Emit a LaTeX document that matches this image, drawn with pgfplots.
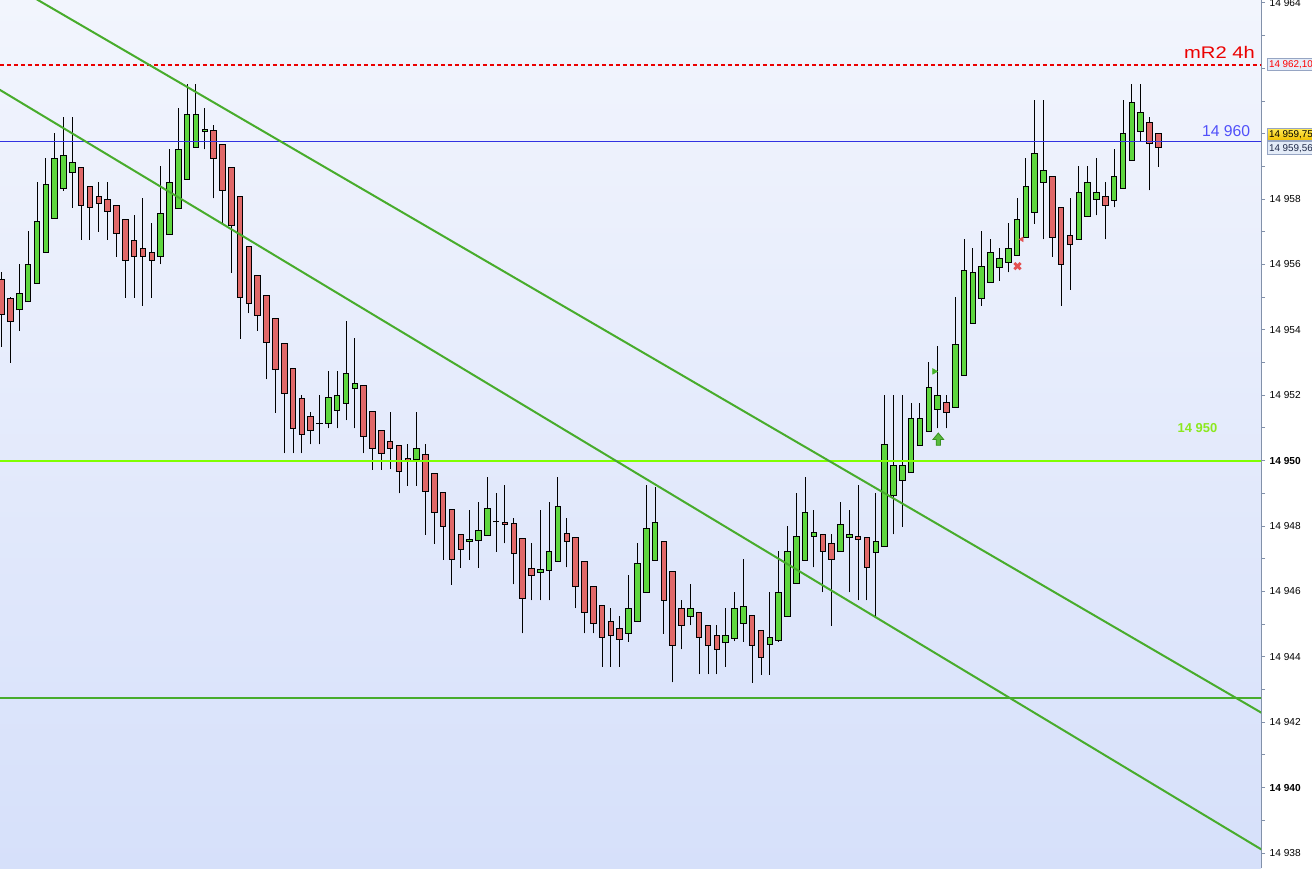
\documentclass[border=0pt]{standalone}
\usepackage{fontspec}
\setmainfont{Liberation Sans}
\usepackage{pgfplots}
\usepackage{pgfplotstable}
\pgfplotsset{compat=1.18}

\definecolor{cgreen}{RGB}{94,214,62}
\definecolor{cred}{RGB}{224,104,104}
\definecolor{tgreen}{RGB}{72,172,44}
\definecolor{lgreen}{RGB}{128,255,0}
\definecolor{llab}{RGB}{140,232,30}
\definecolor{bline}{RGB}{50,50,225}
\definecolor{btext}{RGB}{80,80,250}
\definecolor{axisgray}{RGB}{130,145,170}
\definecolor{bgtop}{RGB}{242,245,253}
\definecolor{bgbot}{RGB}{214,224,250}
\definecolor{boxfill}{RGB}{228,236,248}
\definecolor{boxdraw}{RGB}{150,165,195}
\definecolor{mgreen}{RGB}{70,180,40}
\definecolor{mred}{RGB}{228,80,80}
\definecolor{lred}{RGB}{235,0,0}

% prices are shifted in fixed point (TeX dimens) so that the fpu does not round them
\makeatletter
\newdimen\pdim
\def\pset{\edef\pval{\strip@pt\pdim}\pgfkeyslet{/pgfplots/table/create col/next content}\pval}
\def\ptrafo#1{%
  \pgfutil@in@{Y}{#1}%
  \ifpgfutil@in@\pgfmathfloattofixed{#1}\let\ptmp\pgfmathresult\else\def\ptmp{#1}\fi
  \pdim=\ptmp pt\relax\advance\pdim by -14950pt\relax\edef\pgfmathresult{\strip@pt\pdim}}
\makeatother

\pgfdeclareplotmark{uparrow}{%
  \pgfpathmoveto{\pgfqpoint{0pt}{1.2\pgfplotmarksize}}%
  \pgfpathlineto{\pgfqpoint{\pgfplotmarksize}{0pt}}%
  \pgfpathlineto{\pgfqpoint{0.4\pgfplotmarksize}{0pt}}%
  \pgfpathlineto{\pgfqpoint{0.4\pgfplotmarksize}{-1.1\pgfplotmarksize}}%
  \pgfpathlineto{\pgfqpoint{-0.4\pgfplotmarksize}{-1.1\pgfplotmarksize}}%
  \pgfpathlineto{\pgfqpoint{-0.4\pgfplotmarksize}{0pt}}%
  \pgfpathlineto{\pgfqpoint{-\pgfplotmarksize}{0pt}}%
  \pgfpathclose
  \pgfusepathqfillstroke}

% candle: index, open, high, low, close
\pgfplotstableread{
i o h l c
0 14955.53 14955.78 14953.49 14954.46
1 14954.97 14955.02 14953.00 14954.25
2 14954.61 14956.01 14953.98 14955.12
3 14954.86 14957.02 14954.86 14956.01
4 14955.43 14958.51 14955.43 14957.31
5 14956.37 14959.25 14956.37 14958.45
6 14957.41 14960.01 14957.41 14959.25
7 14958.33 14960.50 14958.26 14959.34
8 14958.82 14960.50 14957.74 14959.13
9 14958.97 14958.97 14956.76 14957.81
10 14958.38 14958.38 14956.76 14957.75
11 14958.09 14958.51 14957.00 14957.87
12 14957.99 14958.51 14956.76 14957.63
13 14957.81 14957.81 14956.24 14956.95
14 14957.38 14957.38 14954.98 14956.13
15 14956.74 14957.51 14954.98 14956.25
16 14956.50 14958.03 14954.74 14956.25
17 14956.37 14957.26 14954.98 14956.13
18 14956.25 14959.00 14956.01 14957.57
19 14956.92 14959.52 14956.92 14958.51
20 14957.72 14960.78 14957.72 14959.52
21 14958.61 14961.52 14958.61 14960.59
22 14959.58 14961.52 14959.58 14960.59
23 14960.07 14960.78 14959.52 14960.13
24 14960.10 14960.26 14958.02 14959.25
25 14959.68 14959.68 14957.26 14958.27
26 14958.97 14958.97 14955.75 14957.20
27 14958.09 14958.09 14953.73 14955.00
28 14956.56 14956.56 14954.51 14954.81
29 14955.67 14955.67 14953.98 14954.45
30 14955.06 14955.06 14952.49 14953.62
31 14954.35 14954.35 14951.47 14952.80
32 14953.59 14953.59 14950.23 14952.06
33 14952.83 14952.83 14950.23 14950.99
34 14951.91 14952.01 14950.23 14950.81
35 14951.36 14951.48 14950.50 14950.93
36 14951.14 14952.01 14950.50 14951.14
37 14951.14 14952.74 14950.99 14951.94
38 14951.54 14952.74 14950.99 14952.00
39 14951.76 14954.27 14951.24 14952.67
40 14952.21 14953.76 14950.99 14952.37
41 14952.31 14952.31 14950.23 14950.75
42 14951.51 14951.51 14949.72 14950.38
43 14950.93 14950.93 14949.72 14950.23
44 14950.59 14951.48 14949.74 14950.38
45 14950.47 14950.47 14949.00 14949.68
46 14950.07 14950.51 14949.24 14950.01
47 14950.04 14951.48 14949.24 14950.38
48 14950.20 14950.51 14947.74 14949.06
49 14949.61 14949.61 14947.46 14948.42
50 14949.03 14949.03 14946.97 14947.99
51 14948.51 14948.51 14946.21 14946.98
52 14947.75 14947.75 14946.73 14947.29
53 14947.54 14948.49 14946.97 14947.60
54 14947.57 14948.73 14946.73 14947.87
55 14947.72 14949.49 14947.72 14948.54
56 14948.13 14949.00 14947.22 14948.13
57 14948.12 14949.25 14947.47 14948.06
58 14948.09 14948.24 14946.22 14947.17
59 14947.63 14947.63 14944.72 14945.79
60 14946.71 14947.47 14945.73 14946.50
61 14946.59 14948.49 14945.73 14946.68
62 14946.65 14948.73 14945.73 14947.23
63 14946.92 14949.49 14946.92 14948.61
64 14947.78 14948.24 14946.74 14947.54
65 14947.66 14947.66 14945.49 14946.16
66 14946.92 14946.92 14944.72 14945.36
67 14946.14 14946.14 14944.72 14945.03
68 14945.58 14945.58 14943.70 14944.60
69 14945.09 14945.49 14943.70 14944.66
70 14944.87 14945.24 14943.70 14944.54
71 14944.72 14946.50 14944.46 14945.49
72 14945.09 14947.47 14945.09 14946.86
73 14945.98 14949.25 14945.98 14947.93
74 14946.95 14949.19 14946.95 14948.12
75 14947.54 14947.54 14944.71 14945.73
76 14946.62 14946.62 14943.22 14944.35
77 14945.49 14945.73 14944.23 14944.97
78 14945.24 14946.22 14944.97 14945.49
79 14945.36 14945.36 14943.47 14944.60
80 14944.97 14944.97 14943.47 14944.35
81 14944.66 14944.97 14943.47 14944.23
82 14944.45 14945.49 14943.70 14944.66
83 14944.57 14945.98 14944.48 14945.49
84 14945.03 14946.99 14944.46 14945.55
85 14945.27 14945.27 14943.21 14944.35
86 14944.81 14944.81 14943.46 14943.99
87 14944.39 14945.99 14943.46 14944.60
88 14944.51 14947.24 14944.46 14945.98
89 14945.24 14948.00 14945.24 14947.23
90 14946.25 14949.00 14946.25 14947.69
91 14946.95 14949.49 14946.95 14948.42
92 14947.69 14948.49 14946.74 14947.80
93 14947.75 14947.75 14945.98 14947.23
94 14947.47 14947.75 14944.95 14946.98
95 14947.23 14948.73 14947.23 14948.06
96 14947.66 14948.49 14945.98 14947.75
97 14947.69 14949.25 14945.73 14947.60
98 14947.66 14947.66 14945.73 14946.74
99 14947.20 14949.00 14945.23 14947.54
100 14947.38 14952.00 14947.38 14950.50
101 14948.94 14952.00 14947.75 14949.86
102 14949.40 14952.00 14947.98 14949.86
103 14949.65 14951.76 14949.65 14951.30
104 14950.47 14951.76 14950.47 14951.30
105 14950.90 14953.01 14950.90 14952.24
106 14951.57 14953.50 14950.99 14952.00
107 14951.79 14952.00 14950.99 14951.48
108 14951.63 14955.00 14951.63 14953.56
109 14952.61 14956.77 14952.61 14955.82
110 14954.20 14956.50 14954.20 14955.76
111 14954.97 14957.02 14954.74 14955.94
112 14955.46 14956.78 14955.46 14956.37
113 14955.91 14956.50 14955.50 14956.19
114 14956.07 14957.26 14955.76 14956.50
115 14956.28 14958.02 14956.28 14957.38
116 14956.83 14959.25 14956.83 14958.39
117 14957.60 14961.02 14957.25 14959.40
118 14958.51 14961.02 14956.77 14958.88
119 14958.70 14958.70 14956.24 14956.83
120 14957.75 14957.75 14954.74 14956.01
121 14956.89 14958.02 14955.23 14956.62
122 14956.77 14959.00 14956.77 14958.21
123 14957.47 14959.00 14957.47 14958.51
124 14957.99 14959.25 14957.50 14958.21
125 14958.09 14958.51 14956.77 14957.81
126 14957.96 14959.52 14957.75 14958.70
127 14958.33 14961.02 14958.33 14960.01
128 14959.19 14961.51 14959.19 14960.96
129 14960.07 14961.51 14959.77 14960.65
130 14960.35 14960.50 14958.27 14959.71
131 14960.01 14960.01 14958.99 14959.58
}\candles

\newcommand\mkcol[2]{\pgfplotstablecreatecol[create col/assign/.code={%
  \getthisrow{o}\vo\getthisrow{h}\vh\getthisrow{l}\vl\getthisrow{c}\vc
  #2\pset}]{#1}\candles}
% wick length
\mkcol{hl}{\pdim=\vh pt\relax\advance\pdim by -\vl pt\relax}
% body outline: bottom and height
\mkcol{lo0}{\pdim=\vo pt\relax\ifdim\vc pt<\pdim\relax\pdim=\vc pt\relax\fi\advance\pdim by -0.015pt\relax}
\mkcol{hg0}{\pdim=\vc pt\relax\advance\pdim by -\vo pt\relax\ifdim\pdim<0pt\relax\pdim=-\pdim\fi\advance\pdim by 0.03pt\relax}
% body fill: bottom and height
\mkcol{lo1}{\pdim=\vo pt\relax\ifdim\vc pt<\pdim\relax\pdim=\vc pt\relax\fi\advance\pdim by 0.015pt\relax}
\mkcol{hg1}{\pdim=\vc pt\relax\advance\pdim by -\vo pt\relax\ifdim\pdim<0pt\relax\pdim=-\pdim\fi\advance\pdim by -0.03pt\relax\ifdim\pdim<0pt\relax\pdim=0pt\fi}
\mkcol{up}{\ifdim\vc pt<\vo pt\relax\pdim=0pt\else\pdim=1pt\fi}

\pgfplotsset{bar/.style={only marks, mark size=0pt, mark options={draw=none, fill=none},
    error bars/.cd, y dir=plus, y explicit, error mark=none}}

\begin{document}
\begin{tikzpicture}
\begin{axis}[
    at={(0,0)}, anchor=south west,
    scale only axis, width=945.75pt, height=651pt,
    xmin=-0.1925, xmax=142.63,
    ymin=14937.544, ymax=14964.089,
    y coord trafo/.code={\ptrafo{#1}},
    axis x line=none,
    axis y line*=right,
    y axis line style={draw=axisgray, line width=0.75pt, -},
    ytick={14938,14940,14942,14944,14946,14948,14950,14952,14954,14956,14958,14960,14962,14964},
    % 14 960 and 14 962 sit under the price boxes
    yticklabels={14 938,\textbf{14 940},14 942,14 944,14 946,14 948,\textbf{14 950},14 952,14 954,14 956,14 958,,,14 964},
    minor y tick num=1,
    tick align=outside,
    major tick length=3pt, minor tick length=3pt,
    tick style={axisgray, line width=0.75pt},
    yticklabel style={font=\fontsize{7.6}{9}\selectfont, text=black},
    axis background/.style={top color=bgtop, bottom color=bgbot},
]
% wicks
\addplot[bar, error bar style={draw=black, line width=0.75pt}]
    table[x=i, y=l, y error plus=hl] {\candles};
% bodies
\addplot[bar, error bar style={draw=black, line width=4.9pt}]
    table[x=i, y=lo0, y error plus=hg0] {\candles};
\addplot[restrict expr to domain={\thisrow{up}}{0.5:1.5}, bar, error bar style={draw=cgreen, line width=3.4pt}]
    table[x=i, y=lo1, y error plus=hg1] {\candles};
\addplot[restrict expr to domain={\thisrow{up}}{-0.5:0.5}, bar, error bar style={draw=cred, line width=3.4pt}]
    table[x=i, y=lo1, y error plus=hg1] {\candles};

% levels
\addplot[lred, line width=0.8pt, dash pattern=on 3pt off 2.25pt] coordinates {(-1,14962.10) (150,14962.10)};
\addplot[bline, line width=0.75pt] coordinates {(-1,14959.75) (150,14959.75)};
\addplot[lgreen, line width=1.5pt] coordinates {(-1,14950) (150,14950)};
\addplot[tgreen, line width=1.5pt] coordinates {(-1,14942.75) (150,14942.75)};
% trend lines
\addplot[tgreen, line width=1.5pt] coordinates {(-5,14965.52) (150,14941.14)};
\addplot[tgreen, line width=1.5pt] coordinates {(-5,14962.12) (150,14936.92)};

% signals
\addplot[only marks, mark=triangle*, mark size=2.4pt, mark options={rotate=-90, fill=mgreen, draw=mgreen}]
    coordinates {(105.63,14952.73)};
\addplot[only marks, mark=uparrow, mark size=4pt, mark options={fill=mgreen!90!white, draw=mgreen!80!black, line width=0.6pt}]
    coordinates {(106.08,14950.65)};
\addplot[only marks, mark=x, mark size=3.3pt, mark options={draw=mred, line width=2.2pt}]
    coordinates {(115.05,14955.95)};
\addplot[only marks, mark=triangle*, mark size=2pt, mark options={rotate=90, fill=mred, draw=mred}]
    coordinates {(115.53,14956.77)};
\end{axis}

\begin{scope}[x=0.75pt, y=-0.75pt, shift={(0,651pt)}]
\node[anchor=base east, inner sep=0pt, text=lred, font=\fontsize{12.6}{14}\selectfont] at (1255,59) {\scalebox{1.2}[1]{mR2 4h}};
\node[anchor=base east, inner sep=0pt, text=btext, font=\fontsize{11.8}{13}\selectfont] at (1250.5,136.7) {14 960};
\node[anchor=base east, inner sep=0pt, text=llab, font=\bfseries\fontsize{9.7}{11}\selectfont] at (1217.5,432.7) {14 950};
\node[anchor=west, fill=boxfill, draw=boxdraw, line width=0.75pt, minimum height=9.2pt, inner ysep=0pt, inner xsep=1.5pt,
    text=red, font=\fontsize{7.4}{9}\selectfont] at (1266.5,64.2) {14 962,10};
\node[anchor=west, top color={rgb,255:red,255;green,232;blue,80}, bottom color={rgb,255:red,238;green,190;blue,0},
    draw=boxdraw, line width=0.75pt, minimum height=9pt, inner ysep=0pt, inner xsep=1.5pt,
    text=black, font=\fontsize{7.4}{9}\selectfont] at (1266.5,134.9) {14 959,75};
\node[anchor=west, fill=boxfill, draw=boxdraw, line width=0.75pt, minimum height=9.75pt, inner ysep=0pt, inner xsep=1.5pt,
    text={rgb,255:red,30;green,40;blue,70}, font=\fontsize{7.4}{9}\selectfont] at (1266.5,148.5) {14 959,56};
\end{scope}

\pgfresetboundingbox
\path[use as bounding box] (0,0) rectangle (984pt,651pt);
\end{tikzpicture}
\end{document}
